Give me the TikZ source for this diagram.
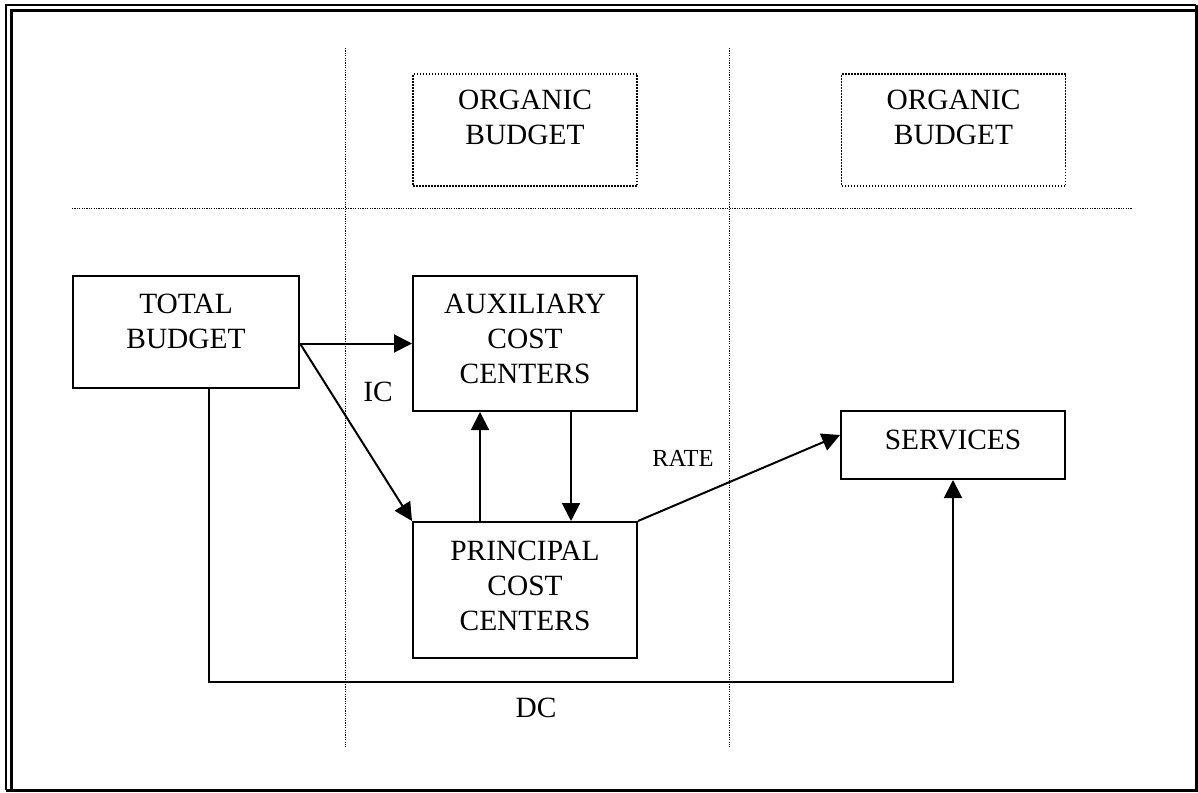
\documentclass[tikz,border=0pt]{standalone}
\usepackage{fontspec}
\setmainfont{Liberation Serif}
\usetikzlibrary{arrows.meta}
\tikzset{
  box/.style={draw,line width=1pt,inner sep=0pt},
  orgbox/.style={draw,line width=0.75pt,dash pattern=on 0.75pt off 0.75pt,inner sep=0pt,minimum width=112pt,minimum height=56pt},
  divider/.style={line width=0.5pt,dash pattern=on 0.6pt off 0.6pt},
  txt/.style={align=center,font=\fontsize{14.7}{17.5}\selectfont,inner sep=0pt},
}
\begin{document}
\begin{tikzpicture}[x=0.5pt,y=-0.5pt,>={Triangle[length=9pt,width=9pt]},line width=1pt]
\useasboundingbox (0,0) rectangle (1198,792);
\draw[line width=0.7pt] (6,790) -- (6,5) -- (1196,5);
\draw[line width=1.5pt] (11,790) -- (11,11) -- (1196,11);
\draw[line width=1.5pt] (1196,5) -- (1196,790) -- (6,790);
\foreach \x in {345,729} \draw[divider] (\x,48) -- (\x,747);
\draw[divider] (72,208) -- (1132,208);
\foreach \x/\n in {525/orgA,953.5/orgB}
  \node[orgbox,label={[txt,yshift=6.25pt]center:ORGANIC\\BUDGET}] (\n) at (\x,130) {};
\node[box,minimum width=113pt,minimum height=56pt,label={[txt,yshift=5.5pt]center:TOTAL\\BUDGET}] (total) at (186,332) {};
\node[box,minimum width=112pt,minimum height=67.5pt,label={[txt,yshift=2.5pt]center:AUXILIARY\\COST\\CENTERS}] (aux) at (525,343.5) {};
\node[box,minimum width=112pt,minimum height=68pt,label={[txt,yshift=2.25pt]center:PRINCIPAL\\COST\\CENTERS}] (princ) at (525,590) {};
\node[box,minimum width=112pt,minimum height=34pt,label={[txt,yshift=2.75pt]center:SERVICES}] (serv) at (953,445) {};
\node[txt] (ic) at (378,392) {IC};
\node[txt,font=\fontsize{12.25}{14}\selectfont] (rate) at (683,458) {RATE};
\node[txt] (dc) at (536,708) {DC};
\draw[->] (total.east |- aux.west) -- (aux.west);
\draw[->] (total.east |- aux.west) -- (princ.north west);
\draw[->] ([xshift=-22.5pt]princ.north) -- ([xshift=-22.5pt]aux.south);
\draw[->] ([xshift=23pt]aux.south) -- ([xshift=23pt]princ.north);
\draw[->] (princ.north east) -- ([yshift=5pt]serv.west);
\coordinate (dcrow) at (0,682);
\draw[->] ([xshift=11.5pt]total.south) |- (serv.south |- dcrow) -- (serv.south);
\end{tikzpicture}
\end{document}
